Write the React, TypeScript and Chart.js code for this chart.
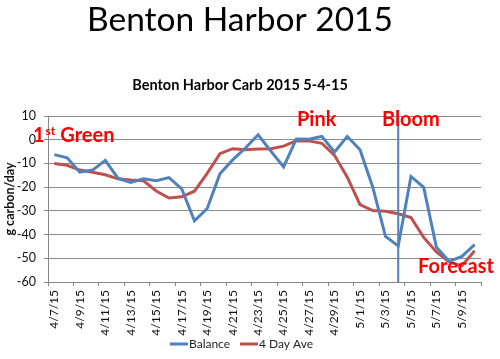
import React, { useEffect, useRef } from "react";
import { Chart, registerables } from "chart.js";

Chart.register(...registerables);

const dates = [
  "4/7/15", "4/8/15", "4/9/15", "4/10/15", "4/11/15", "4/12/15", "4/13/15", "4/14/15",
  "4/15/15", "4/16/15", "4/17/15", "4/18/15", "4/19/15", "4/20/15", "4/21/15", "4/22/15",
  "4/23/15", "4/24/15", "4/25/15", "4/26/15", "4/27/15", "4/28/15", "4/29/15", "4/30/15",
  "5/1/15", "5/2/15", "5/3/15", "5/4/15", "5/5/15", "5/6/15", "5/7/15", "5/8/15",
  "5/9/15", "5/10/15",
];

const balance = [
  -6.3, -7.6, -13.7, -12.8, -8.7, -16.3, -18.0, -16.5,
  -17.3, -16.0, -20.7, -34.2, -29.0, -14.4, -8.5, -3.5,
  2.1, -4.8, -11.5, 0.3, 0.2, 1.4, -5.2, 1.4,
  -4.2, -20.0, -40.8, -44.8, -15.5, -20.1, -45.4, -51.3,
  -49.2, -44.2,
];

const fourDayAve = [
  -10.0, -10.8, -12.8, -13.7, -14.8, -16.5, -17.0, -17.3,
  -21.6, -24.6, -24.1, -21.7, -14.2, -5.9, -3.8, -4.2,
  -3.9, -3.8, -2.7, -0.4, -0.5, -1.5, -6.6, -15.8,
  -27.4, -29.9, -30.2, -31.2, -32.8, -41.2, -47.3, -51.5,
  -53.2, -46.8,
];

const seriesNames = ["Balance", "4 Day Ave"];
const seriesColors = ["#4F81BD", "#C0504D"];
const yMin = -60;
const yMax = 10;
const yStep = 10;
const bloomDate = "5/4/15";

const mainTitle = "Benton Harbor 2015";
const subTitle = "Benton Harbor Carb 2015 5-4-15";
const yTitle = "g carbon/day";

const FONT = "Lato, 'Open Sans', 'DejaVu Sans', sans-serif";
const RED = "#FF0000";

export default function App() {
  const ref = useRef<HTMLCanvasElement>(null);

  useEffect(() => {
    document.body.style.margin = "0";
    const canvas = ref.current;
    if (!canvas) return;

    const overlay = {
      id: "overlay",
      afterDatasetsDraw(chart: any) {
        const { ctx, chartArea, scales } = chart;
        const xs = scales.x;
        const ys = scales.y;
        ctx.save();

        // Bloom vertical line
        const bx = xs.getPixelForValue(dates.indexOf(bloomDate));
        ctx.strokeStyle = "#4F81BD";
        ctx.lineWidth = 2;
        ctx.beginPath();
        ctx.moveTo(bx, chartArea.top - 6);
        ctx.lineTo(bx, chartArea.bottom);
        ctx.stroke();

        // Stage annotations
        ctx.fillStyle = RED;
        ctx.textBaseline = "alphabetic";
        ctx.textAlign = "left";
        const big = `bold 20px ${FONT}`;
        const small = `bold 12px ${FONT}`;

        // 1st Green
        let gx = xs.getPixelForValue(-1.68);
        const gy = ys.getPixelForValue(-1.0);
        ctx.font = big;
        ctx.fillText("1", gx, gy);
        gx += ctx.measureText("1").width + 1;
        ctx.font = small;
        ctx.fillText("st", gx, gy - 7);
        gx += ctx.measureText("st").width + 5;
        ctx.font = big;
        ctx.fillText("Green", gx, gy);

        ctx.fillText("Pink", xs.getPixelForValue(19.05), ys.getPixelForValue(5.6));
        ctx.fillText("Bloom", xs.getPixelForValue(25.73), ys.getPixelForValue(5.6));
        ctx.fillText("Forecast", xs.getPixelForValue(28.56), ys.getPixelForValue(-56));

        // Titles
        ctx.fillStyle = "#000";
        ctx.textAlign = "center";
        ctx.font = `33.5px ${FONT}`;
        ctx.fillText(mainTitle, 240, 31);
        ctx.font = `bold 14.5px ${FONT}`;
        ctx.fillText(subTitle, 240, 90);

        // Legend
        ctx.textAlign = "left";
        ctx.textBaseline = "middle";
        ctx.font = `12px ${FONT}`;
        const ly = 344;
        const starts = [170, 240];
        seriesNames.forEach((name, i) => {
          ctx.strokeStyle = seriesColors[i];
          ctx.lineWidth = 3;
          ctx.beginPath();
          ctx.moveTo(starts[i], ly);
          ctx.lineTo(starts[i] + 18, ly);
          ctx.stroke();
          ctx.fillStyle = "#222";
          ctx.fillText(name, starts[i] + 19, ly);
        });

        ctx.restore();
      },
    };

    const chart = new Chart(canvas, {
      type: "line",
      data: {
        labels: dates,
        datasets: [
          {
            label: seriesNames[0],
            data: balance,
            borderColor: seriesColors[0],
            backgroundColor: seriesColors[0],
            borderWidth: 3,
            pointRadius: 0,
            tension: 0,
            fill: false,
          },
          {
            label: seriesNames[1],
            data: fourDayAve,
            borderColor: seriesColors[1],
            backgroundColor: seriesColors[1],
            borderWidth: 3,
            pointRadius: 0,
            tension: 0,
            fill: false,
          },
        ],
      },
      options: {
        responsive: false,
        animation: false,
        events: [],
        layout: { padding: { top: 116, right: 19, left: 0, bottom: 0 } },
        plugins: {
          legend: { display: false },
          title: { display: false },
          tooltip: { enabled: false },
        },
        scales: {
          x: {
            offset: true,
            grid: {
              offset: true,
              drawOnChartArea: false,
              tickLength: 4,
              color: (c: any) =>
                c.index === undefined || c.index % 2 === 0 ? "#868686" : "rgba(0,0,0,0)",
            },
            border: { color: "#868686", width: 1 },
            ticks: {
              autoSkip: false,
              maxRotation: 90,
              minRotation: 90,
              padding: 4,
              color: "#111",
              font: { family: FONT, size: 12 },
              callback: (_v: any, i: number) => (i % 2 === 0 ? dates[i] : ""),
            },
            afterFit: (s: any) => {
              s.height = 77;
            },
          },
          y: {
            min: yMin,
            max: yMax,
            ticks: {
              stepSize: yStep,
              padding: 8,
              color: "#111",
              font: { family: FONT, size: 12.5 },
            },
            grid: { color: "#8C8C8C", tickLength: 4 },
            border: { color: "#868686", width: 1 },
            title: {
              display: true,
              text: yTitle,
              color: "#111",
              font: { family: FONT, size: 12.5, weight: "bold" },
              padding: { top: 2, bottom: 0 },
            },
            afterFit: (s: any) => {
              s.width = 48;
            },
          },
        },
      } as any,
      plugins: [overlay],
    });

    return () => chart.destroy();
  }, []);

  return <canvas ref={ref} width={500} height={359} style={{ display: "block" }} />;
}
